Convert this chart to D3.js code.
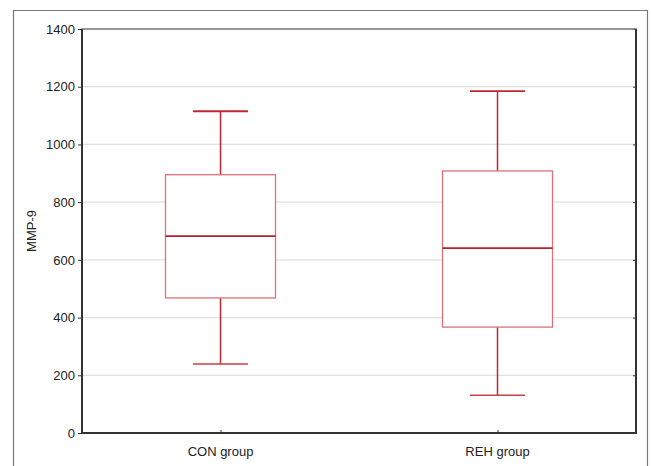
<!DOCTYPE html>
<html><head><meta charset="utf-8">
<script src="https://cdn.jsdelivr.net/npm/d3@7"></script>
<style>body{margin:0;background:#fff}svg{display:block}text{font-family:"Liberation Sans",Arial,sans-serif}</style>
</head><body><svg id="c" width="651" height="466"></svg>
<script>
const categories = ["CON group", "REH group"];
const whiskerLow = [239, 131];
const q1 = [468, 367];
const median = [682, 641];
const q3 = [895, 908];
const whiskerHigh = [1115, 1185];
const yTicks = [0, 200, 400, 600, 800, 1000, 1200, 1400];
const yLabel = "MMP-9";

const svg = d3.select("#c");
const m = {l: 82, t: 29, r: 636, b: 433};
const x = d3.scalePoint().domain(categories).range([m.l, m.r]).padding(0.5);
const y = d3.scaleLinear().domain([0, 1400]).range([m.b, m.t]);

// outer frame
svg.append("path").attr("d", `M13.5,466 V10.5 H647.5 V466`).attr("fill","none").attr("stroke","#777").attr("stroke-width",1.2);

// grid
svg.append("g").selectAll("line").data(yTicks.slice(1,-1)).join("line")
  .attr("x1", m.l).attr("x2", m.r).attr("y1", d=>y(d)).attr("y2", d=>y(d))
  .attr("stroke","#e0e0e0").attr("stroke-width",1.3);

// axes
const ya = svg.append("g").attr("transform",`translate(${m.l},0)`)
  .call(d3.axisLeft(y).tickValues(yTicks).tickSize(4).tickPadding(3).tickFormat(d3.format("d")));
ya.select(".domain").remove();
ya.selectAll("text").attr("font-size",13).attr("fill","#222");
ya.selectAll("line").attr("stroke","#333");
const yr = svg.append("g").attr("transform",`translate(${m.r},0)`)
  .call(d3.axisLeft(y).tickValues(yTicks).tickSize(3).tickFormat(""));
yr.select(".domain").remove(); yr.selectAll("line").attr("stroke","#333");
const xa = svg.append("g").attr("transform",`translate(0,${m.b})`)
  .call(d3.axisTop(x).tickSize(3).tickFormat(""));
xa.select(".domain").remove(); xa.selectAll("line").attr("stroke","#333");
svg.append("g").selectAll("text").data(categories).join("text")
  .attr("x", d=>x(d)).attr("y", 456).attr("text-anchor","middle")
  .attr("font-size",13).attr("fill","#222").text(d=>d);

// plot frame
svg.append("rect").attr("x",m.l).attr("y",m.t).attr("width",m.r-m.l).attr("height",m.b-m.t)
  .attr("fill","none").attr("stroke","#777").attr("stroke-width",1.5);
svg.append("path").attr("d",`M${m.l},${m.t} V${m.b} H${m.r} V${m.t}`).attr("fill","none").attr("stroke","#333").attr("stroke-width",2);

// y label
svg.append("text").attr("transform",`translate(36,${(m.t+m.b)/2}) rotate(-90)`)
  .attr("text-anchor","middle").attr("font-size",13).attr("fill","#222").text(yLabel);

// boxes
const bw = 110, cw = 55;
const g = svg.append("g");
categories.forEach((c,i)=>{
  const cx = x(c);
  g.append("line").attr("x1",cx).attr("x2",cx).attr("y1",y(whiskerHigh[i])).attr("y2",y(q3[i])).attr("stroke","#c0282e").attr("stroke-width",1.5);
  g.append("line").attr("x1",cx).attr("x2",cx).attr("y1",y(q1[i])).attr("y2",y(whiskerLow[i])).attr("stroke","#c0282e").attr("stroke-width",1.5);
  g.append("line").attr("x1",cx-cw/2).attr("x2",cx+cw/2).attr("y1",y(whiskerHigh[i])).attr("y2",y(whiskerHigh[i])).attr("stroke","#c0282e").attr("stroke-width",1.8);
  g.append("line").attr("x1",cx-cw/2).attr("x2",cx+cw/2).attr("y1",y(whiskerLow[i])).attr("y2",y(whiskerLow[i])).attr("stroke","#c84048").attr("stroke-width",1.5);
  g.append("rect").attr("x",cx-bw/2).attr("y",y(q3[i])).attr("width",bw).attr("height",y(q1[i])-y(q3[i]))
    .attr("fill","#fff").attr("stroke","#dd7077").attr("stroke-width",1.3);
  g.append("line").attr("x1",cx-bw/2).attr("x2",cx+bw/2).attr("y1",y(median[i])).attr("y2",y(median[i])).attr("stroke","#b8202a").attr("stroke-width",1.8);
});
</script></body></html>
